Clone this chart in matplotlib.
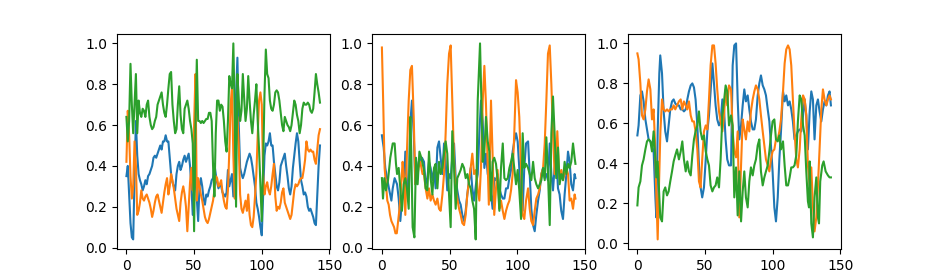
import numpy as np
import matplotlib
matplotlib.use('Agg')
import matplotlib.pyplot as plt

# ---- left panel, one value per step 0..143
blue1 = [0.35, 0.40, 0.26, 0.12, 0.05, 0.04, 0.35, 0.62, 0.45, 0.36,
         0.33, 0.31, 0.28, 0.30, 0.33, 0.31, 0.35, 0.36, 0.38, 0.40,
         0.44, 0.45, 0.44, 0.46, 0.48, 0.50, 0.48, 0.52, 0.52, 0.55,
         0.52, 0.52, 0.44, 0.36, 0.32, 0.30, 0.28, 0.36, 0.40, 0.42,
         0.38, 0.40, 0.43, 0.45, 0.42, 0.44, 0.46, 0.40, 0.30, 0.16,
         0.28, 0.40, 0.24, 0.13, 0.30, 0.34, 0.30, 0.24, 0.21, 0.26,
         0.25, 0.28, 0.30, 0.33, 0.34, 0.41, 0.36, 0.32, 0.29, 0.31,
         0.30, 0.27, 0.26, 0.25, 0.27, 0.38, 0.30, 0.33, 0.36, 0.25,
         0.40, 0.75, 0.93, 0.60, 0.39, 0.36, 0.34, 0.36, 0.39, 0.42,
         0.44, 0.46, 0.44, 0.40, 0.35, 0.30, 0.22, 0.19, 0.15, 0.10,
         0.06, 0.25, 0.45, 0.51, 0.50, 0.52, 0.56, 0.50, 0.50, 0.42,
         0.36, 0.30, 0.28, 0.32, 0.40, 0.42, 0.44, 0.46, 0.40, 0.35,
         0.29, 0.26, 0.30, 0.39, 0.45, 0.51, 0.56, 0.52, 0.42, 0.33,
         0.30, 0.26, 0.27, 0.25, 0.20, 0.18, 0.19, 0.17, 0.15, 0.12,
         0.11, 0.26, 0.40, 0.50]
orange1 = [0.42, 0.67, 0.55, 0.35, 0.24, 0.30, 0.52, 0.40, 0.16, 0.18,
           0.22, 0.28, 0.24, 0.23, 0.25, 0.26, 0.24, 0.22, 0.19, 0.15,
           0.18, 0.22, 0.25, 0.26, 0.23, 0.20, 0.17, 0.22, 0.27, 0.31,
           0.34, 0.26, 0.30, 0.36, 0.33, 0.29, 0.24, 0.19, 0.16, 0.13,
           0.22, 0.27, 0.30, 0.26, 0.20, 0.08, 0.20, 0.32, 0.39, 0.28,
           0.60, 0.85, 0.23, 0.34, 0.30, 0.26, 0.23, 0.19, 0.15, 0.13,
           0.12, 0.14, 0.17, 0.20, 0.23, 0.28, 0.35, 0.34, 0.30, 0.31,
           0.33, 0.27, 0.23, 0.20, 0.19, 0.28, 0.47, 0.70, 0.79, 0.45,
           0.24, 0.50, 0.64, 0.50, 0.26, 0.19, 0.17, 0.20, 0.23, 0.18,
           0.26, 0.16, 0.11, 0.10, 0.15, 0.25, 0.36, 0.55, 0.72, 0.76,
           0.70, 0.36, 0.26, 0.30, 0.32, 0.28, 0.26, 0.30, 0.36, 0.41,
           0.25, 0.18, 0.20, 0.19, 0.22, 0.27, 0.29, 0.22, 0.20, 0.18,
           0.16, 0.14, 0.16, 0.22, 0.28, 0.31, 0.30, 0.31, 0.33, 0.34,
           0.34, 0.38, 0.43, 0.52, 0.48, 0.47, 0.48, 0.47, 0.47, 0.43,
           0.41, 0.48, 0.55, 0.58]
green1 = [0.64, 0.52, 0.62, 0.90, 0.70, 0.56, 0.70, 0.85, 0.56, 0.72,
          0.66, 0.64, 0.68, 0.67, 0.64, 0.70, 0.72, 0.64, 0.60, 0.58,
          0.59, 0.62, 0.64, 0.70, 0.72, 0.74, 0.76, 0.70, 0.66, 0.64,
          0.70, 0.78, 0.85, 0.86, 0.70, 0.62, 0.56, 0.58, 0.70, 0.79,
          0.65, 0.58, 0.56, 0.68, 0.70, 0.72, 0.68, 0.62, 0.58, 0.51,
          0.08, 0.60, 0.92, 0.62, 0.62, 0.61, 0.62, 0.61, 0.62, 0.63,
          0.63, 0.66, 0.66, 0.62, 0.40, 0.25, 0.56, 0.72, 0.72, 0.67,
          0.70, 0.69, 0.62, 0.52, 0.47, 0.62, 0.84, 0.80, 0.78, 1.00,
          0.66, 0.20, 0.85, 0.72, 0.62, 0.67, 0.85, 0.73, 0.62, 0.68,
          0.84, 0.72, 0.62, 0.56, 0.65, 0.72, 0.80, 0.62, 0.48, 0.30,
          0.13, 0.40, 0.75, 0.97, 0.85, 0.83, 0.72, 0.68, 0.67, 0.70,
          0.76, 0.77, 0.76, 0.72, 0.66, 0.60, 0.57, 0.64, 0.62, 0.60,
          0.59, 0.57, 0.60, 0.66, 0.72, 0.70, 0.65, 0.62, 0.56, 0.60,
          0.68, 0.71, 0.70, 0.70, 0.71, 0.70, 0.67, 0.66, 0.68, 0.76,
          0.85, 0.80, 0.76, 0.71]

# ---- middle panel (x, value) readings
x2_blue = [0, 1.3, 2.5, 3.8, 5.5, 7, 8, 9.4, 11.2, 12.4, 13.6, 14.8, 16.1, 17.3, 18.5, 19.8, 21, 22.2, 23.5, 24.7, 27.2, 29.6,
           31.1, 32.3, 33.6, 34.8, 36, 37.3, 38.5, 39.7, 41, 42.2, 43.4, 44.7, 45.9, 47.1, 48.3, 49.6, 50.8, 52, 53.3, 54.5, 55.7, 57, 58.2, 59.4, 60.7, 61.9, 63.1, 64.4, 65.6, 66.8, 68.1,
           69.5, 70.8, 72, 73.2, 74.5, 75.7, 76.9, 78.2, 79.4, 80.6, 81.8, 83, 84.3, 85.5, 86.8, 88, 89.3, 90.5, 91.7, 93, 94.2, 95.4, 96.6, 97.8, 99.1, 100.3, 101.5, 102.8, 104, 105.2, 106.5,
           108, 109.2, 110.4, 111.7, 112.9, 114.1, 115.4, 116.6, 117.8, 119.1, 120.3, 121.5, 122.7, 124, 125.2, 126.4, 127.6, 128.8, 130.1, 131.3, 132.5, 133.8, 135, 136.3, 137.5, 138.7, 139.9, 141.2, 142.4, 143]
blue2 = [0.55, 0.49, 0.39, 0.34, 0.28, 0.23, 0.29, 0.34, 0.31, 0.24, 0.13, 0.23, 0.26, 0.47, 0.33, 0.26, 0.61, 0.72, 0.56, 0.31, 0.42, 0.44,
         0.42, 0.31, 0.34, 0.42, 0.39, 0.33, 0.38, 0.29, 0.49, 0.52, 0.44, 0.36, 0.51, 0.42, 0.28, 0.36, 0.34, 0.44, 0.51, 0.34, 0.28, 0.23, 0.21, 0.16, 0.13, 0.18, 0.26, 0.33, 0.39, 0.29, 0.23,
         0.31, 0.36, 0.56, 0.72, 0.62, 0.39, 0.46, 0.36, 0.34, 0.26, 0.19, 0.34, 0.33, 0.36, 0.29, 0.26, 0.24, 0.24, 0.29, 0.29, 0.34, 0.38, 0.47, 0.52, 0.56, 0.52, 0.39, 0.24, 0.18, 0.39, 0.51,
         0.52, 0.36, 0.19, 0.11, 0.08, 0.16, 0.23, 0.28, 0.36, 0.39, 0.34, 0.36, 0.33, 0.51, 0.36, 0.28, 0.39, 0.46, 0.29, 0.26, 0.18, 0.14, 0.26, 0.36, 0.47, 0.42, 0.31, 0.28, 0.36, 0.34]

x2_orange = [0, 1, 2, 4, 5, 6, 7, 9, 10, 11, 12, 13, 14, 15.3, 16.1, 17.3, 18.5, 19.8, 21, 22.2, 23.5, 24.7, 26, 27, 28.4, 30,
             31.1, 32.3, 33.6, 34.8, 36, 37.3, 38.5, 39.7, 41, 42.2, 43.4, 44.7, 45.9, 47.1, 48.3, 49.6, 50.8, 52, 53.3, 54.5, 55.7, 57, 58.2, 59.4, 60.7, 61.9, 63.1, 64.4, 65.6, 66.8, 68.1,
             69.5, 70.8, 72, 73.2, 74.5, 75.7, 76.9, 79, 80.6, 81.8, 83, 84.3, 85.5, 86.8, 88, 89.3, 90.5, 91.7, 93, 94.2, 95.4, 96.6, 97.8, 99.1, 100.3, 101.5, 102.8, 104, 105.2, 106.5,
             108, 109.2, 110.4, 111.7, 112.9, 114.1, 115.4, 116.6, 117.8, 119.1, 120.3, 121.5, 122.7, 124, 125.2, 126.4, 127.6, 128.8, 129.6, 130.6, 131.3, 132.6, 133.8, 135, 136.3, 137.5, 138.7, 139.9, 141.2, 142.4, 143]
orange2 = [0.98, 0.70, 0.39, 0.23, 0.21, 0.16, 0.13, 0.10, 0.07, 0.07, 0.13, 0.19, 0.28, 0.42, 0.36, 0.16, 0.47, 0.72, 0.87, 0.89, 0.64, 0.31, 0.33, 0.39, 0.42, 0.36,
           0.36, 0.29, 0.24, 0.29, 0.23, 0.26, 0.23, 0.21, 0.24, 0.19, 0.18, 0.26, 0.36, 0.56, 0.80, 0.95, 0.99, 0.72, 0.43, 0.29, 0.24, 0.19, 0.16, 0.12, 0.11, 0.16, 0.26, 0.33, 0.39, 0.46, 0.36,
           0.38, 0.28, 0.23, 0.39, 0.72, 0.89, 0.70, 0.21, 0.72, 0.45, 0.16, 0.29, 0.38, 0.19, 0.23, 0.18, 0.14, 0.18, 0.21, 0.23, 0.28, 0.36, 0.56, 0.82, 0.76, 0.64, 0.39, 0.16, 0.14, 0.23,
           0.29, 0.19, 0.13, 0.11, 0.18, 0.24, 0.26, 0.29, 0.36, 0.39, 0.51, 0.72, 0.95, 0.99, 0.80, 0.56, 0.36, 0.42, 0.57, 0.41, 0.34, 0.38, 0.33, 0.36, 0.39, 0.36, 0.23, 0.24, 0.19, 0.26, 0.24]

x2_green = [0, 0.8, 1.8, 3, 4.5, 6.2, 8, 9.4, 10.4, 11.2, 12.4, 13.6, 14.8, 16.1, 17.3, 18.5, 19.8, 21, 21.7, 22.7, 24, 25.2, 26.4, 27.7, 29.1,
            31.1, 32.3, 33.6, 34.8, 36, 37.3, 38.5, 39.7, 41, 42.2, 43.4, 44.7, 45.9, 47.1, 48.3, 49.6, 50.8, 52, 53.3, 54.5, 55.7, 57, 58.2, 59.4, 60.7, 61.9, 63.1, 64.4, 65.6, 66.8, 68.1, 69.3,
            70.8, 72.5, 73.5, 74.5, 75.7, 76.9, 78.2, 79.4, 80.6, 81.8, 83, 84.3, 85.5, 86.8, 88, 89.3, 90.5, 91.7, 93, 94.2, 95.4, 96.6, 97.8, 99.1, 100.3, 101.5, 102.8, 104, 105.2, 106.5,
            108, 109.2, 110.4, 111.7, 112.9, 114.1, 115.4, 116.6, 117.8, 119.1, 120.3, 121.5, 122.7, 124, 125.2, 126.4, 127.6, 128.8, 130.1, 131.3, 132.5, 133.8, 135, 136.3, 137.5, 138.7, 139.9, 141.2, 142.4, 143]
green2 = [0.34, 0.24, 0.34, 0.28, 0.33, 0.44, 0.51, 0.51, 0.41, 0.36, 0.39, 0.29, 0.18, 0.31, 0.34, 0.29, 0.19, 0.64, 0.47, 0.10, 0.05, 0.44, 0.31, 0.47, 0.44,
          0.38, 0.29, 0.28, 0.47, 0.34, 0.26, 0.39, 0.41, 0.29, 0.42, 0.36, 0.39, 0.46, 0.52, 0.46, 0.26, 0.10, 0.57, 0.39, 0.19, 0.34, 0.36, 0.38, 0.41, 0.39, 0.34, 0.36, 0.31, 0.29, 0.23, 0.19, 0.04,
          0.72, 1.00, 0.72, 0.42, 0.47, 0.64, 0.52, 0.47, 0.23, 0.42, 0.44, 0.41, 0.33, 0.18, 0.39, 0.51, 0.34, 0.33, 0.34, 0.39, 0.42, 0.46, 0.39, 0.31, 0.38, 0.28, 0.14, 0.56, 0.39, 0.41,
          0.39, 0.36, 0.33, 0.42, 0.34, 0.31, 0.29, 0.31, 0.33, 0.39, 0.33, 0.54, 0.36, 0.11, 0.56, 0.74, 0.56, 0.34, 0.49, 0.31, 0.36, 0.33, 0.42, 0.36, 0.41, 0.39, 0.42, 0.51, 0.44, 0.41]

# ---- right panel (x, value) readings
x3_blue = [0, 0.9, 2.2, 3.4, 4.6, 5.9, 7.1, 8.3, 9.6, 10.8, 12, 13.3, 14, 15, 16.2, 16.9, 18.2, 19.4, 20.6, 21.9, 23.1, 24.3, 25.6, 26.8, 28, 29.3,
           30.7, 32, 33.2, 34.4, 35.7, 36.9, 38.1, 39.4, 40.6, 41.8, 43, 44.3, 45.5, 46.7, 47.9, 49.2, 50.5, 51.7, 52.9, 54.1, 55.4, 56.6, 57.8, 59, 60.3, 61.5, 62.8, 64, 65.2, 66.4, 67.7,
           69.2, 70.4, 71.6, 72.9, 74.1, 75.3, 76.6, 77.8, 79, 80.2, 81.5, 82.7, 83.9, 85.2, 86.4, 87.6, 88.9, 90.1, 91.3, 92.6, 93.8, 95, 96.3, 97.5, 98.7, 99.9, 101.2, 102.4, 103.7, 104.9, 106.1,
           107.6, 108.8, 110, 111.3, 112.5, 113.7, 114.9, 116.1, 117.4, 118.6, 119.9, 121.1, 122.4, 123.6, 124.8, 126, 127.3, 128.5, 129.7, 130.9, 132.2, 133.4, 134.6, 135.9, 137.1, 138.3, 139.6, 140.8, 142, 143]
blue3 = [0.54, 0.59, 0.74, 0.76, 0.71, 0.62, 0.57, 0.52, 0.51, 0.49, 0.46, 0.23, 0.13, 0.56, 0.85, 0.94, 0.85, 0.66, 0.56, 0.51, 0.59, 0.67, 0.71, 0.72, 0.70, 0.69,
         0.69, 0.67, 0.67, 0.66, 0.67, 0.72, 0.76, 0.79, 0.80, 0.78, 0.72, 0.59, 0.39, 0.28, 0.23, 0.28, 0.42, 0.56, 0.64, 0.76, 0.90, 0.80, 0.69, 0.62, 0.59, 0.61, 0.72, 0.67, 0.52, 0.42, 0.39,
         0.39, 0.89, 0.99, 1.00, 0.72, 0.52, 0.59, 0.69, 0.77, 0.71, 0.74, 0.67, 0.61, 0.57, 0.57, 0.62, 0.74, 0.80, 0.84, 0.79, 0.77, 0.74, 0.67, 0.61, 0.49, 0.36, 0.18, 0.11, 0.23, 0.42, 0.56,
         0.76, 0.71, 0.74, 0.69, 0.71, 0.67, 0.61, 0.52, 0.54, 0.56, 0.57, 0.56, 0.64, 0.72, 0.64, 0.47, 0.66, 0.76, 0.72, 0.52, 0.69, 0.72, 0.66, 0.61, 0.67, 0.71, 0.69, 0.74, 0.76, 0.69]

x3_orange = [0, 0.9, 2.2, 3.4, 4.6, 5.9, 7.1, 8.3, 9.6, 10.8, 12, 13, 14, 15, 16, 17, 18.2, 19.4, 20.6, 21.9, 23.1, 24.3, 25.6, 26.8, 28, 29.3,
             30.7, 32, 33.2, 34.4, 35.7, 36.9, 38.1, 39.4, 40.6, 41.8, 43, 44.3, 45.5, 46.7, 47.9, 49.2, 50.5, 51.7, 52.9, 54.1, 55.4, 56.6, 57.8, 59, 60.3, 61.5, 62.8, 64, 65.2, 66.4, 67.7,
             69.2, 70.4, 71.6, 72.9, 74.1, 75.3, 76.6, 77.8, 79, 80.2, 81.5, 82.7, 83.9, 85.2, 86.4, 87.6, 88.9, 90.1, 91.3, 92.6, 93.8, 95, 96.3, 97.5, 98.7, 99.9, 101.2, 102.4, 103.7, 104.9, 106.1,
             107.6, 108.8, 110, 111.3, 112.5, 113.7, 114.9, 116.1, 117.4, 118.6, 119.9, 121.1, 122.4, 123.6, 124.8, 126, 127.3, 128.5, 129.7, 130.9, 132.2, 133.4, 134.6, 135.9, 137.1, 138.3, 139.6, 140.8, 142, 143]
orange3 = [0.95, 0.92, 0.80, 0.64, 0.62, 0.67, 0.76, 0.82, 0.77, 0.62, 0.67, 0.51, 0.25, 0.02, 0.30, 0.56, 0.72, 0.67, 0.66, 0.67, 0.66, 0.67, 0.67, 0.69, 0.67, 0.69,
           0.71, 0.72, 0.67, 0.71, 0.69, 0.67, 0.71, 0.64, 0.61, 0.61, 0.56, 0.47, 0.31, 0.28, 0.42, 0.56, 0.59, 0.57, 0.72, 0.89, 0.99, 0.99, 0.90, 0.77, 0.66, 0.61, 0.56, 0.64, 0.77, 0.69, 0.79,
           0.77, 0.56, 0.46, 0.43, 0.56, 0.13, 0.39, 0.62, 0.57, 0.52, 0.61, 0.56, 0.66, 0.72, 0.76, 0.79, 0.77, 0.72, 0.64, 0.56, 0.49, 0.42, 0.39, 0.36, 0.42, 0.46, 0.47, 0.52, 0.52, 0.56, 0.62,
           0.76, 0.90, 0.97, 0.99, 0.97, 0.89, 0.72, 0.56, 0.42, 0.38, 0.47, 0.62, 0.74, 0.72, 0.64, 0.39, 0.29, 0.38, 0.19, 0.06, 0.13, 0.29, 0.47, 0.67, 0.77, 0.72, 0.69, 0.72, 0.74, 0.72]

x3_green = [0, 0.9, 2.2, 3.4, 4.6, 5.9, 7.1, 8.3, 9.6, 10.8, 12, 13.3, 14, 15, 15.7, 16.9, 18.2, 19.4, 20.6, 21.9, 23.1, 24.3, 25.6, 26.8, 28, 29.3,
            30.7, 32, 33.2, 34.4, 35.7, 36.9, 38.1, 39.4, 40.6, 41.8, 43, 44.3, 45.5, 46.7, 47.9, 49.2, 50.5, 51.7, 52.9, 54.1, 55.4, 56.6, 57.8, 59, 60.3, 61.5, 62.8, 64, 65.2, 66.4, 67.7,
            69.2, 70.4, 71.6, 72.9, 74.1, 75.3, 76.6, 77.8, 79, 80.2, 81.5, 82.7, 83.9, 85.2, 86.4, 87.6, 88.9, 90.1, 91.3, 92.6, 93.8, 95, 96.3, 97.5, 98.7, 99.9, 101.2, 102.4, 103.7, 104.9, 106.1,
            107.6, 108.8, 110, 111.3, 112.5, 113.7, 114.9, 116.1, 117.4, 118.6, 119.9, 121.1, 122.4, 123.6, 124.8, 126, 126.8, 127.3, 128.5, 129.7, 130.9, 132.2, 133.4, 134.2, 135.1, 136.6, 137.6, 139.1, 140.8, 142, 143]
green3 = [0.19, 0.28, 0.31, 0.39, 0.42, 0.47, 0.51, 0.52, 0.51, 0.46, 0.56, 0.42, 0.33, 0.41, 0.31, 0.13, 0.11, 0.26, 0.28, 0.24, 0.26, 0.31, 0.36, 0.41, 0.44, 0.47,
          0.42, 0.46, 0.51, 0.42, 0.36, 0.41, 0.36, 0.34, 0.44, 0.52, 0.56, 0.59, 0.66, 0.56, 0.52, 0.54, 0.46, 0.42, 0.39, 0.29, 0.26, 0.28, 0.29, 0.33, 0.28, 0.42, 0.64, 0.71, 0.79, 0.76, 0.59,
          0.64, 0.59, 0.23, 0.38, 0.14, 0.36, 0.11, 0.26, 0.36, 0.23, 0.18, 0.31, 0.38, 0.34, 0.39, 0.42, 0.49, 0.52, 0.36, 0.29, 0.33, 0.36, 0.39, 0.46, 0.54, 0.61, 0.62, 0.52, 0.51, 0.54, 0.47,
          0.51, 0.39, 0.29, 0.29, 0.33, 0.38, 0.38, 0.39, 0.44, 0.61, 0.74, 0.72, 0.59, 0.54, 0.36, 0.21, 0.18, 0.41, 0.10, 0.03, 0.23, 0.33, 0.13, 0.10, 0.31, 0.39, 0.41, 0.36, 0.34, 0.33, 0.33]

fig, axes = plt.subplots(1, 3, figsize=(9.34, 2.8), dpi=100)

steps = np.arange(len(blue1))
axes[0].plot(steps, blue1)
axes[0].plot(steps, orange1)
axes[0].plot(steps, green1)

axes[1].plot(x2_blue, blue2)
axes[1].plot(x2_orange, orange2)
axes[1].plot(x2_green, green2)

axes[2].plot(x3_blue, blue3)
axes[2].plot(x3_orange, orange3)
axes[2].plot(x3_green, green3)

for ax in axes:
    ax.set_xticks([0, 50, 100, 150])

plt.savefig('out.png')
